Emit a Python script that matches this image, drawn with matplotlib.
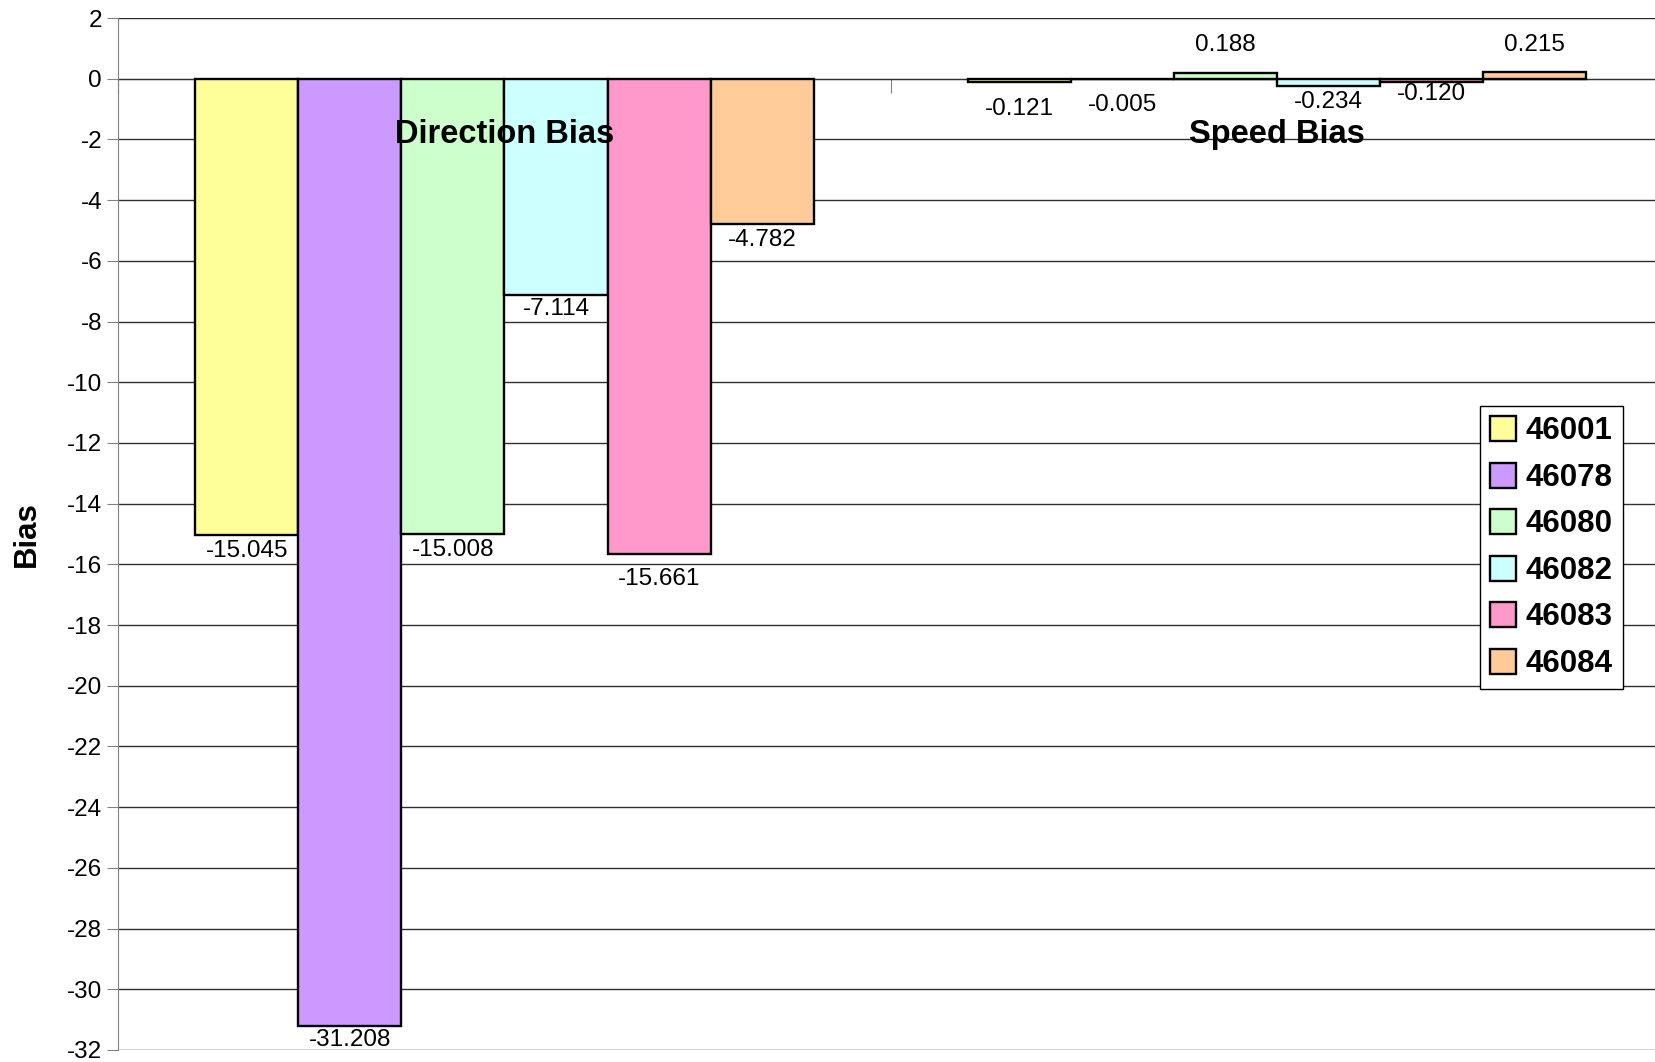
import numpy as np
import matplotlib.pyplot as plt

plt.rcParams['font.family'] = ['Liberation Sans', 'DejaVu Sans']
plt.rcParams['axes.unicode_minus'] = False

# %% Data
categories = ["Direction Bias", "Speed Bias"]
stations = ["46001", "46078", "46080", "46082", "46083", "46084"]
direction_bias = [-15.045, -31.208, -15.008, -7.114, -15.661, -4.782]
speed_bias = [-0.121, -0.005, 0.188, -0.234, -0.120, 0.215]
colors = ["#FFFF99", "#CC99FF", "#CCFFCC", "#CCFFFF", "#FF99CC", "#FFCC99"]

# vertical offsets of the value labels (pixels, label centre to bar end)
dir_label_dy = [-16, -14, -16, -14, -25, -16]
spd_label_dy = [-27, -26, 28, -16, -12, 27]

# %% Plot
fig = plt.figure(figsize=(16.56, 10.62), dpi=100)
ax = fig.add_axes([0.0713, 0.0113, 0.9287, 0.9717])

n = len(stations)
width = 0.8 / n
x = np.arange(len(categories))

for i in range(n):
    vals = [direction_bias[i], speed_bias[i]]
    pos = x - 0.4 + width * (i + 0.5)
    ax.bar(pos, vals, width, color=colors[i], edgecolor="black",
           linewidth=1.7, label=stations[i], zorder=3)
    for j, (p, v) in enumerate(zip(pos, vals)):
        dy = dir_label_dy[i] if j == 0 else spd_label_dy[i]
        ax.annotate("{:.3f}".format(v), (p, v), xytext=(0, dy * 0.72),
                    textcoords="offset points", ha="center", va="center",
                    fontsize=17.5, zorder=4)

# category labels sit just under the zero line
for xi, name in zip(x, categories):
    ax.text(xi, -1.85, name, ha="center", va="center", fontsize=23.5,
            fontweight="bold", zorder=5)

ax.set_xlim(-0.5, 1.49)
ax.set_ylim(-32, 2)
ax.set_yticks(np.arange(-32, 3, 2))
ax.tick_params(axis="y", labelsize=17.5, length=8, color="#808080")
ax.yaxis.grid(True, color="#303030", linewidth=1, zorder=0)

ax.spines["bottom"].set_position(("data", 0))
ax.spines["bottom"].set_color("#303030")
ax.spines["bottom"].set_zorder(2)
ax.spines["left"].set_color("#808080")
ax.spines["top"].set_visible(False)
ax.spines["right"].set_visible(False)
ax.set_xticks([-0.5, 0.5])
ax.set_xticklabels([])
ax.tick_params(axis="x", direction="out", length=10, color="#808080")

ax.set_ylabel("Bias", fontsize=22.5, fontweight="bold", labelpad=18)

leg = ax.legend(loc="upper left", bbox_to_anchor=(0.8855, 0.6240),
                prop={"size": 22.5, "weight": "bold"}, frameon=True,
                fancybox=False, edgecolor="black", framealpha=1,
                handlelength=0.85, handleheight=0.85, handletextpad=0.3,
                labelspacing=0.52, borderpad=0.32, borderaxespad=0)
leg.get_frame().set_linewidth(1)
for h in leg.legend_handles:
    h.set_linewidth(1.7)

plt.savefig("out.png", dpi=100)
